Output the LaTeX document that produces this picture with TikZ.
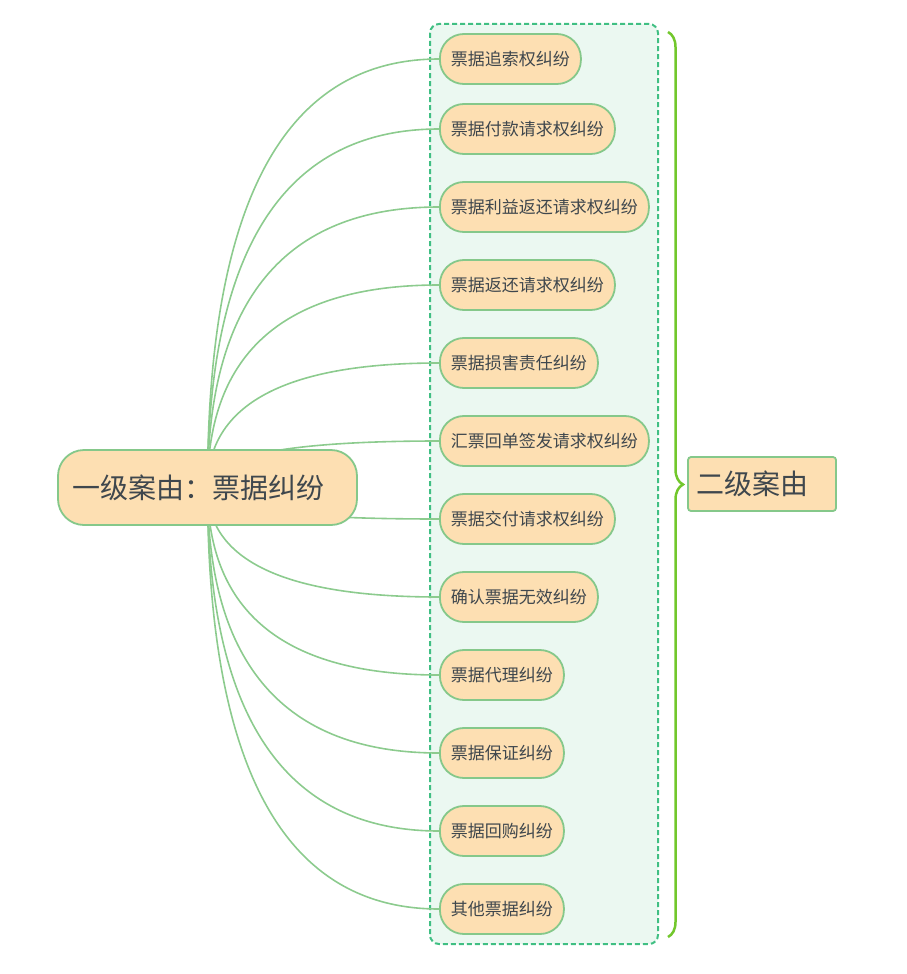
\documentclass[tikz,border=0pt]{standalone}
\usepackage{fontspec}
\setmainfont{Noto Sans CJK SC}
\usepackage{xcolor}
\usetikzlibrary{calc}
\usetikzlibrary{decorations.pathreplacing}

\definecolor{nodefill}{HTML}{FDDFB2}
\definecolor{nodeline}{HTML}{85C88A}
\definecolor{branchline}{HTML}{8CCB8E}
\definecolor{boxfill}{HTML}{EBF8F1}
\definecolor{boxline}{HTML}{40BF83}
\definecolor{braceline}{HTML}{72C72C}
\definecolor{textgray}{HTML}{3F474D}

\pgfdeclarelayer{boxes}
\pgfdeclarelayer{lines}
\pgfsetlayers{boxes,lines,main}

\begin{document}
\begin{tikzpicture}[x=1pt,y=-1pt]
				\useasboundingbox (0,0) rectangle (907,974);
				\begin{scope}[every node/.style = {draw=nodeline, fill=nodefill, line width=1.8pt, text=textgray}]
					\node[rounded corners=26pt, minimum height=75pt, text width=271pt, inner xsep=14pt, align=left,
						font=\fontsize{28pt}{32pt}\selectfont] (R) at (207.5,487.5) {一级案由：票据纠纷};
					\node[rounded corners=3pt, minimum height=54pt, text width=132pt, inner xsep=8pt, align=left,
						font=\fontsize{28pt}{32pt}\selectfont] (T) at (762,484) {二级案由};
				\end{scope}
				\begin{scope}[every node/.style = {draw=nodeline, fill=nodefill, line width=1.8pt, text=textgray,
						anchor=west, rounded corners=24pt, minimum height=50pt, inner xsep=11pt,
						font=\fontsize{17pt}{20pt}\selectfont}]
					\node (S1) at (439,59) {票据追索权纠纷};
					\node (S2) at (439,129) {票据付款请求权纠纷};
					\node (S3) at (439,207) {票据利益返还请求权纠纷};
					\node (S4) at (439,285) {票据返还请求权纠纷};
					\node (S5) at (439,363) {票据损害责任纠纷};
					\node (S6) at (439,441) {汇票回单签发请求权纠纷};
					\node (S7) at (439,519) {票据交付请求权纠纷};
					\node (S8) at (439,597) {确认票据无效纠纷};
					\node (S9) at (439,675) {票据代理纠纷};
					\node (S10) at (439,753) {票据保证纠纷};
					\node (S11) at (439,831) {票据回购纠纷};
					\node (S12) at (439,909) {其他票据纠纷};
				\end{scope}
				\begin{pgfonlayer}{boxes}
					\draw[boxline, fill=boxfill, line width=2pt, dash pattern=on 5pt off 3pt, rounded corners=9pt]
						(430,24) rectangle (658,944);
				\end{pgfonlayer}
				\draw[braceline, line width=2.5pt, decorate, decoration={brace, amplitude=15pt}] (668,32) -- (668,937);
				\begin{pgfonlayer}{lines}
				\begin{scope}[every edge/.style={draw=branchline, line width=1.6pt,
						to path={.. controls ($(\tikztostart)!2/3!(\tikztostart |- \tikztotarget)$)
							and ($(\tikztotarget)!2/3!(\tikztostart |- \tikztotarget)$) .. (\tikztotarget)}}]
					\path [-] (R.center) edge (S1.west);
					\path [-] (R.center) edge (S2.west);
					\path [-] (R.center) edge (S3.west);
					\path [-] (R.center) edge (S4.west);
					\path [-] (R.center) edge (S5.west);
					\path [-] (R.center) edge (S6.west);
					\path [-] (R.center) edge (S7.west);
					\path [-] (R.center) edge (S8.west);
					\path [-] (R.center) edge (S9.west);
					\path [-] (R.center) edge (S10.west);
					\path [-] (R.center) edge (S11.west);
					\path [-] (R.center) edge (S12.west);
				\end{scope}
				\end{pgfonlayer}
			\end{tikzpicture}
\end{document}
